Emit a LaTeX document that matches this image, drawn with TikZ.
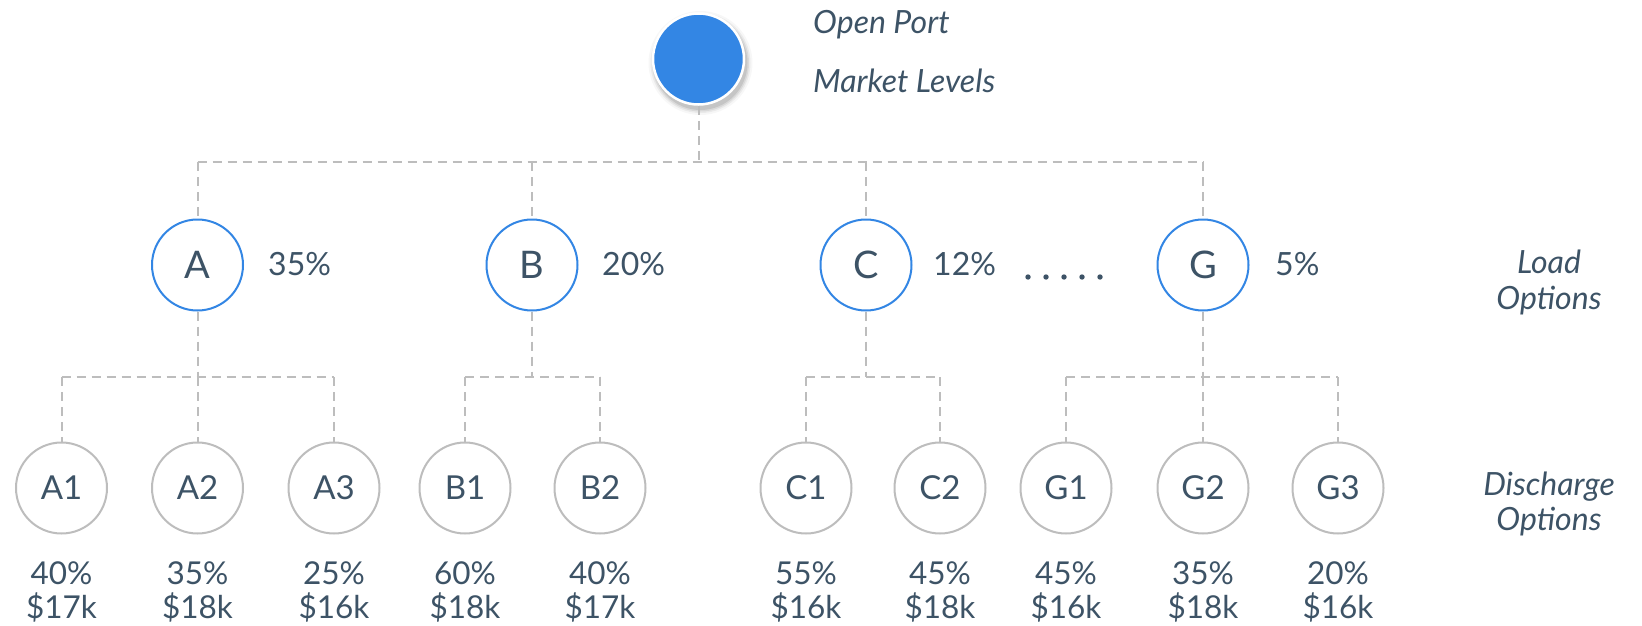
\documentclass[tikz,border=0pt]{standalone}
\usepackage{fontspec}
\setmainfont{Lato}
\definecolor{txt}{HTML}{3D5366}
\definecolor{blu}{HTML}{3386E4}
\definecolor{gry}{HTML}{BDBDBD}
\begin{document}
\begin{tikzpicture}[x=1pt,y=-1pt,
  conn/.style={draw=gry, line width=2pt, dash pattern=on 9pt off 6pt},
  rootnode/.style={circle, fill=blu, draw=white, line width=2.5pt, minimum size=91pt, inner sep=0pt},
  loadnode/.style={circle, draw=blu, line width=2pt, fill=white, minimum size=91pt, inner sep=0pt, text=txt, font=\fontsize{38}{42}\selectfont},
  dischnode/.style={circle, draw=gry, line width=2pt, fill=white, minimum size=91pt, inner sep=0pt, text=txt, font=\fontsize{33}{38}\selectfont},
  pct/.style={text=txt, font=\fontsize{32}{36}\selectfont, anchor=base west, inner sep=0pt},
  botlab/.style={text=txt, font=\fontsize{31.5}{36}\selectfont, anchor=base, inner sep=0pt},
  side/.style={text=txt, font=\itshape\fontsize{32}{36}\selectfont, anchor=base, inner sep=0pt},
  sidew/.style={text=txt, font=\itshape\fontsize{32}{36}\selectfont, anchor=base west, inner sep=0pt}]
\useasboundingbox (0,0) rectangle (1642,625);
% soft shadow of the root
\foreach \r/\o in {52/0.03,50/0.05,48.5/0.07,47/0.09}
  \fill[black, opacity=\o] (700.5,63) circle (\r pt);
\node[rootnode] (root) at (698.5,59) {};
\node[sidew] (t1) at (813,33) {Open Port};
\node[sidew] (t2) at (813,92) {Market Levels};
% load level
\node[loadnode] (A) at (197.5,265) {A};
\node[loadnode] (B) at (532,265) {B};
\node[loadnode] (C) at (866,265) {C};
\node[loadnode] (G) at (1203,265) {G};
\node[pct] (pA) at (268,275) {35\%};
\node[pct] (pB) at (602,275) {20\%};
\node[pct] (pC) at (933,275) {12\%};
\node[pct] (pG) at (1275,275) {5\%};
\foreach \k in {0,...,4}
  \fill[txt] (1028+18*\k,277) circle (2.7pt);
\node[side] (lo1) at (1549,273) {Load};
\node[side] (lo2) at (1549,309) {Options};
% discharge level
\foreach \n/\x/\p/\d in {A1/61.5/40/17,A2/197.5/35/18,A3/334/25/16,B1/465/60/18,B2/600/40/17,C1/806/55/16,C2/940/45/18,G1/1066/45/16,G2/1203/35/18,G3/1338/20/16}{
  \node[dischnode] (\n) at (\x,488) {\n};
  \node[botlab] (p\n) at (\x,584) {\p\%};
  \node[botlab] (d\n) at (\x,618) {\$\d k};
}
\node[side] (do1) at (1549,495) {Discharge};
\node[side] (do2) at (1549,530) {Options};
% connectors
\coordinate (hub) at (698.5,162);
\coordinate (barA) at (197.5,377);
\coordinate (barB) at (532,377);
\coordinate (barC) at (866,377);
\coordinate (barG) at (1203,377);
\draw[conn] (root.south) -- (hub);
\draw[conn] (A.north |- hub) -- (G.north |- hub);
\foreach \n in {A,B,C,G}
  \draw[conn] (\n.north |- hub) -- (\n.north);
\foreach \n in {A,B,C,G}
  \draw[conn] (\n.south) -- (bar\n);
\draw[conn] (A1.north |- barA) -- (A3.north |- barA);
\draw[conn] (B1.north |- barB) -- (B2.north |- barB);
\draw[conn] (C1.north |- barC) -- (C2.north |- barC);
\draw[conn] (G1.north |- barG) -- (G3.north |- barG);
\foreach \n/\b in {A1/A,A2/A,A3/A,B1/B,B2/B,C1/C,C2/C,G1/G,G2/G,G3/G}
  \draw[conn] (\n.north |- bar\b) -- (\n.north);
\end{tikzpicture}
\end{document}
